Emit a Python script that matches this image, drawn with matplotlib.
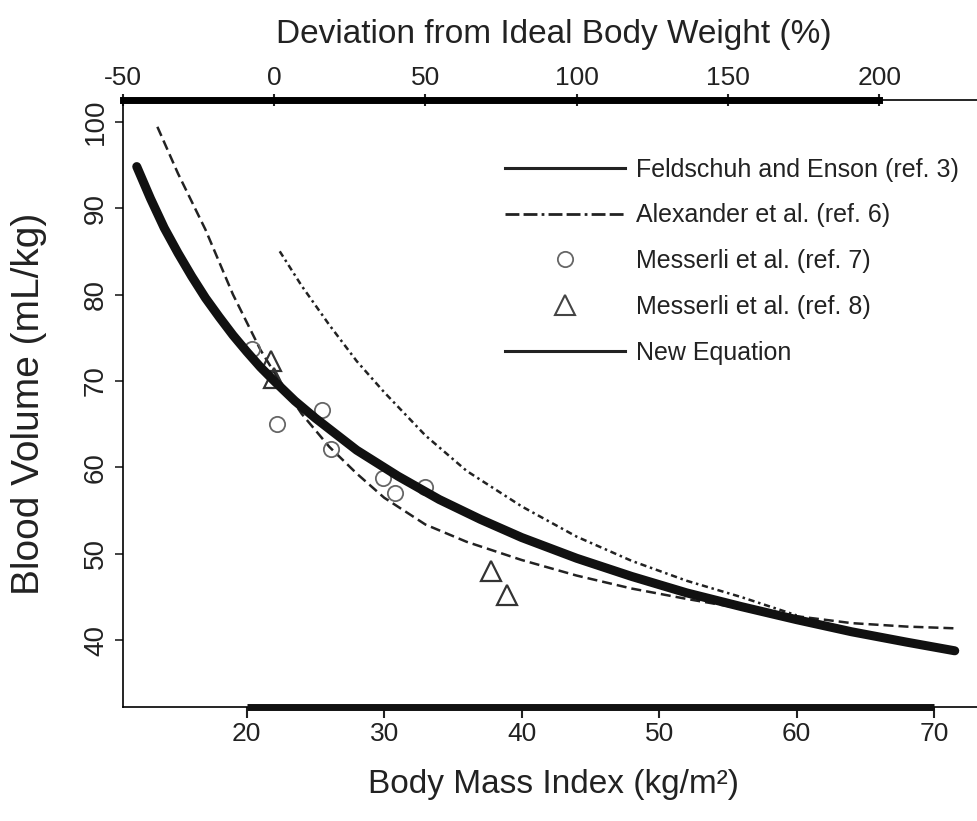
import numpy as np
import matplotlib
matplotlib.use("Agg")
import matplotlib.pyplot as plt
from matplotlib.lines import Line2D

# values (BMI in kg/m2, blood volume in mL/kg)
new_bmi = [12, 13, 14, 15, 16, 17, 18, 19, 20, 21, 22, 23.5, 25, 28, 31, 34, 37, 40,
           44, 48, 52, 56, 60, 64, 68, 71.5]
new_bv = [94.8, 91.1, 87.7, 84.8, 82.1, 79.6, 77.4, 75.3, 73.4, 71.6, 70.0, 67.7, 65.7,
          62.0, 59.0, 56.3, 54.0, 51.9, 49.5, 47.4, 45.5, 43.9, 42.4, 41.0, 39.8, 38.8]

feld_bmi = [22.4, 24, 26, 28, 30, 33, 36, 40, 44, 48, 52, 56, 60]
feld_bv = [85.0, 81.0, 76.5, 72.3, 68.7, 63.7, 59.6, 55.5, 52.0, 49.2, 46.9, 45.0, 42.9]

alex_bmi = [13.5, 15, 17, 19, 21, 22, 24, 26, 28, 30, 33, 36, 40, 44, 48, 52, 56, 60,
            64, 68, 71.5]
alex_bv = [99.4, 94.0, 87.5, 80.0, 73.6, 71.0, 66.2, 62.4, 59.3, 56.5, 53.4, 51.4, 49.3,
           47.5, 46.0, 44.8, 43.7, 42.8, 42.0, 41.6, 41.4]

mess7_bmi = [20.4, 22.2, 25.5, 26.1, 29.9, 30.8, 33.0]
mess7_bv = [73.7, 65.0, 66.6, 62.1, 58.8, 57.1, 57.7]

mess8_bmi = [21.8, 22.0, 37.8, 38.9]
mess8_bv = [72.3, 70.3, 48.0, 45.2]

bmi_ticks = [20, 30, 40, 50, 60, 70]
dev_ticks = [-50, 0, 50, 100, 150, 200]
bv_ticks = [40, 50, 60, 70, 80, 90, 100]
ideal_bmi = 22.0

plt.rcParams.update({
    "font.family": ["Liberation Sans", "DejaVu Sans"],
    "axes.unicode_minus": False,
    "text.color": "#222222",
    "axes.labelcolor": "#222222",
    "xtick.color": "#222222",
    "ytick.color": "#222222",
})

fig = plt.figure(figsize=(9.77, 8.21), dpi=100)
ax = fig.add_axes([123 / 977, 1 - 707 / 821, 862 / 977, 607 / 821])

ax.plot(feld_bmi, feld_bv, color="#222222", linewidth=1.8,
        dashes=(2.5, 1.5, 1, 1.5), zorder=2)
ax.plot(alex_bmi, alex_bv, color="#222222", linewidth=1.8,
        dashes=(4, 2), zorder=2)
ax.plot(mess7_bmi, mess7_bv, linestyle="none", marker="o", markersize=11,
        markerfacecolor="none", markeredgecolor="#666666", markeredgewidth=1.3, zorder=3)
ax.plot(mess8_bmi, mess8_bv, linestyle="none", marker="^", markersize=14,
        markerfacecolor="none", markeredgecolor="#333333", markeredgewidth=1.6, zorder=3)
ax.plot(new_bmi, new_bv, color="#111111", linewidth=6.5,
        solid_capstyle="round", solid_joinstyle="round", zorder=4)

ax.set_xlim(11, 73.7)
ax.set_ylim(32.3, 102.5)

ax.set_xticks(bmi_ticks)
ax.set_yticks(bv_ticks)
ax.set_yticklabels([str(v) for v in bv_ticks], rotation=90, va="center")
ax.tick_params(axis="x", labelsize=19, length=8, width=1.5, pad=3)
ax.tick_params(axis="y", labelsize=20, length=6, width=1.2, pad=4)
ax.set_xlabel("Body Mass Index (kg/m²)", fontsize=24, labelpad=16)
ax.set_ylabel("Blood Volume (mL/kg)", fontsize=28, labelpad=26)

for side in ["left", "bottom", "top"]:
    ax.spines[side].set_linewidth(1.2)
ax.spines["right"].set_visible(False)

# heavy axis segment under the BMI ticks
ax.plot([bmi_ticks[0], bmi_ticks[-1]], [0, 0], transform=ax.get_xaxis_transform(),
        color="#111111", linewidth=5, clip_on=False, solid_capstyle="butt", zorder=5)

secax = ax.secondary_xaxis(
    "top",
    functions=(lambda b: (b / ideal_bmi - 1) * 100, lambda d: (d / 100 + 1) * ideal_bmi),
)
secax.set_xticks(dev_ticks)
secax.tick_params(labelsize=19, length=9, width=1.5, direction="inout", pad=3)
secax.spines["top"].set_bounds(dev_ticks[0], dev_ticks[-1])
secax.spines["top"].set_linewidth(5)
secax.set_xlabel("Deviation from Ideal Body Weight (%)", fontsize=24, labelpad=16)

handles = [
    Line2D([], [], color="#222222", linewidth=2.2),
    Line2D([], [], color="#222222", linewidth=2.0, dashes=(5, 1.5, 5, 1.5, 1, 1.5)),
    Line2D([], [], linestyle="none", marker="o", markersize=11,
           markerfacecolor="none", markeredgecolor="#666666", markeredgewidth=1.3),
    Line2D([], [], linestyle="none", marker="^", markersize=14,
           markerfacecolor="none", markeredgecolor="#444444", markeredgewidth=1.5),
    Line2D([], [], color="#222222", linewidth=2.2),
]
labels = ["Feldschuh and Enson (ref. 3)", "Alexander et al. (ref. 6)",
          "Messerli et al. (ref. 7)", "Messerli et al. (ref. 8)", "New Equation"]
ax.legend(handles, labels, loc="upper left", bbox_to_anchor=(0.443, 0.905),
          frameon=False, fontsize=18, handlelength=4.8, handletextpad=0.44,
          labelspacing=0.87, borderaxespad=0, borderpad=0)

fig.savefig("out.png", dpi=100)
plt.close(fig)
